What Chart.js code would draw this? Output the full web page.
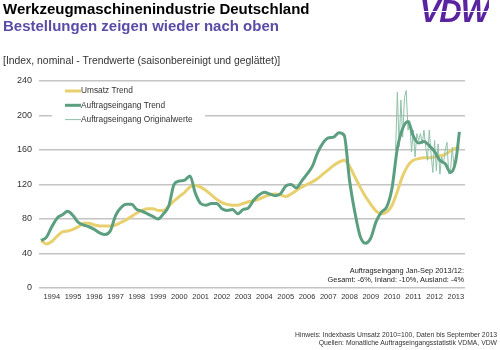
<!DOCTYPE html>
<html lang="de">
<head>
<meta charset="UTF-8">
<title>Werkzeugmaschinenindustrie Deutschland</title>
<script src="https://cdn.jsdelivr.net/npm/chart.js"></script>
<style>
  body { margin: 0; background: #fff; font-family: "Liberation Sans", Arial, sans-serif; }
  #wrap { position: relative; width: 500px; height: 350px; overflow: hidden; }
  #wrap div { position: absolute; white-space: nowrap; }
  .title { left: 3px; top: 0px; font-size: 15px; line-height: 17px; font-weight: bold; color: #000; }
  .sub { left: 3px; top: 17px; font-size: 15px; line-height: 17px; font-weight: bold; color: #5a4ba6; }
  .unit { left: 3px; top: 55px; font-size: 10.4px; line-height: 12px; color: #333; }
  .logo { right: 11px; top: -4px; font-size: 31px; line-height: 32px; font-weight: bold; font-style: italic;
          letter-spacing: -1px;
          background: repeating-linear-gradient(180deg, #5a24a0 0px, #5a24a0 15px, #fff 15px, #fff 16px, #5a24a0 16px, #5a24a0 19px);
          -webkit-background-clip: text; background-clip: text; color: transparent; }
  .note { right: 36px; font-size: 7.4px; line-height: 9px; color: #222; text-align: right; }
  .src { right: 3px; font-size: 6.8px; line-height: 8px; color: #333; text-align: right; }
  canvas { position: absolute; left: 0; top: 0; }
</style>
</head>
<body>
<div id="wrap">
  <canvas id="chart" width="500" height="350"></canvas>
  <div class="title">Werkzeugmaschinenindustrie Deutschland</div>
  <div class="sub">Bestellungen zeigen wieder nach oben</div>
  <div class="logo">VDW</div>
  <div class="unit">[Index, nominal - Trendwerte (saisonbereinigt und geglättet)]</div>
  <div class="note" style="top:266px">Auftragseingang Jan-Sep 2013/12:</div>
  <div class="note" style="top:275px">Gesamt: -6%, Inland: -10%, Ausland: -4%</div>
  <div class="src" style="top:331px">Hinweis: Indexbasis Umsatz 2010=100, Daten bis September 2013</div>
  <div class="src" style="top:339px">Quellen: Monatliche Auftragseingangsstatistik VDMA, VDW</div>
</div>

<script>
// years on the x axis
const years = [1994, 1995, 1996, 1997, 1998, 1999, 2000, 2001, 2002, 2003,
               2004, 2005, 2006, 2007, 2008, 2009, 2010, 2011, 2012, 2013];
const yTicks = [0, 40, 80, 120, 160, 200, 240];

// trend values, quarterly (Jan, Apr, Jul, Oct), 2013: Jan, Apr, Jul, Sep
const umsatzTrend = [
  55, 51, 54, 60,   65, 66, 68, 71,   75, 75, 73, 72,   72, 72, 73, 76,
  79, 83, 87, 90,   92, 92, 90, 90,   95, 101, 106, 111, 117, 119, 117, 113,
  108, 103, 99, 97, 96, 96, 98, 100, 101, 103, 106, 108, 109, 108, 106, 109,
  113, 117, 120, 123, 127, 132, 137, 142, 146, 148, 141, 129, 117, 106, 97, 89,
  86, 88, 96, 112,  130, 142, 148, 150, 151, 151, 152, 153, 155, 159, 162, 164
];
const auftragTrend = [
  55, 59, 71, 81,   85, 89, 84, 76,   73, 71, 68, 64,   62, 66, 84, 93,
  97, 97, 91, 89,   86, 83, 80, 86,   95, 120, 124, 125, 130, 110, 98, 96,
  98, 98, 92, 90,   91, 86, 91, 93,   102, 108, 111, 109, 107, 109, 118, 120,
  116, 124, 132, 141, 157, 168, 174, 175, 180, 177, 125, 88, 60, 52, 58, 77,
  88, 94, 116, 162, 185, 193, 176, 168, 170, 165, 158, 148, 144, 134, 148, 181
];

// monthly original values, Sep 2010 - Sep 2013
const origStart = [2010, 9];
const auftragOriginal = [
  160, 227, 164, 218,
  175, 221, 229, 183, 194, 158, 183, 152, 179, 171, 179, 167,
  183, 163, 148, 183, 156, 134, 171, 136, 167, 132, 152, 144,
  160, 169, 132, 136, 163, 140, 150, 165, 181
];

const toYear = (y, m) => y + (m - 1) / 12;

const trendDates = [];
years.forEach(y => {
  const months = y === 2013 ? [1, 4, 7, 9] : [1, 4, 7, 10];
  months.forEach(m => trendDates.push(toYear(y, m)));
});
const origDates = auftragOriginal.map((v, i) => {
  const n = origStart[1] - 1 + i;
  return toYear(origStart[0] + Math.floor(n / 12), (n % 12) + 1);
});

const pts = (xs, ys) => ys.map((v, i) => ({ x: xs[i], y: v }));

const green = '#5c9e80';
const yellow = '#e8d06e';
const thin = '#8fc0a8';

// legend drawn inside the plot area on a white box
const legendBox = {
  id: 'legendBox',
  beforeDatasetsDraw(chart) {
    const { ctx, chartArea } = chart;
    const x0 = chartArea.left + 13, y0 = chartArea.top + 3;
    ctx.save();
    ctx.fillStyle = '#fff';
    ctx.fillRect(x0, y0, 153, 42);
    const items = [
      ['Umsatz Trend', yellow, 3],
      ['Auftragseingang Trend', green, 3],
      ['Auftragseingang Originalwerte', thin, 1]
    ];
    ctx.font = '8.3px "Liberation Sans", Arial, sans-serif';
    ctx.textBaseline = 'middle';
    items.forEach((it, i) => {
      const y = y0 + 7 + i * 14.3;
      ctx.strokeStyle = it[1];
      ctx.lineWidth = it[2];
      ctx.beginPath();
      ctx.moveTo(x0 + 13, y);
      ctx.lineTo(x0 + 29, y);
      ctx.stroke();
      ctx.fillStyle = '#333';
      ctx.fillText(it[0], x0 + 29, y);
    });
    ctx.restore();
  }
};

new Chart(document.getElementById('chart'), {
  type: 'line',
  data: {
    datasets: [
      {
        label: 'Auftragseingang Trend',
        data: pts(trendDates, auftragTrend),
        borderColor: green,
        borderWidth: 3,
        pointRadius: 0,
        cubicInterpolationMode: 'monotone'
      },
      {
        label: 'Auftragseingang Originalwerte',
        data: pts(origDates, auftragOriginal),
        borderColor: thin,
        borderWidth: 1,
        pointRadius: 0,
        tension: 0
      },
      {
        label: 'Umsatz Trend',
        data: pts(trendDates, umsatzTrend),
        borderColor: yellow,
        borderWidth: 3,
        pointRadius: 0,
        cubicInterpolationMode: 'monotone'
      }
    ]
  },
  options: {
    responsive: false,
    animation: false,
    devicePixelRatio: 1,
    layout: { padding: { top: 81, right: 35, bottom: 42, left: 0 } },
    plugins: { legend: { display: false }, tooltip: { enabled: false } },
    scales: {
      x: {
        type: 'linear',
        min: 1993.9,
        max: 2013.93,
        afterBuildTicks: scale => { scale.ticks = years.map(y => ({ value: y + 0.5 })); },
        afterFit: scale => { scale.height = 20; },
        grid: { display: false, drawTicks: false },
        border: { display: false },
        ticks: {
          autoSkip: false, maxRotation: 0, minRotation: 0, padding: 4,
          color: '#333',
          font: { family: '"Liberation Sans", Arial, sans-serif', size: 7.5 },
          callback: v => String(Math.floor(v))
        }
      },
      y: {
        min: 0,
        max: 240,
        afterBuildTicks: scale => { scale.ticks = yTicks.map(v => ({ value: v })); },
        afterFit: scale => { scale.width = 39; },
        grid: { color: '#c4c4c4', lineWidth: 1.5, drawTicks: false },
        border: { display: false },
        ticks: {
          padding: 7,
          color: '#333',
          font: { family: '"Liberation Sans", Arial, sans-serif', size: 9 }
        }
      }
    }
  },
  plugins: [legendBox]
});
</script>
</body>
</html>
